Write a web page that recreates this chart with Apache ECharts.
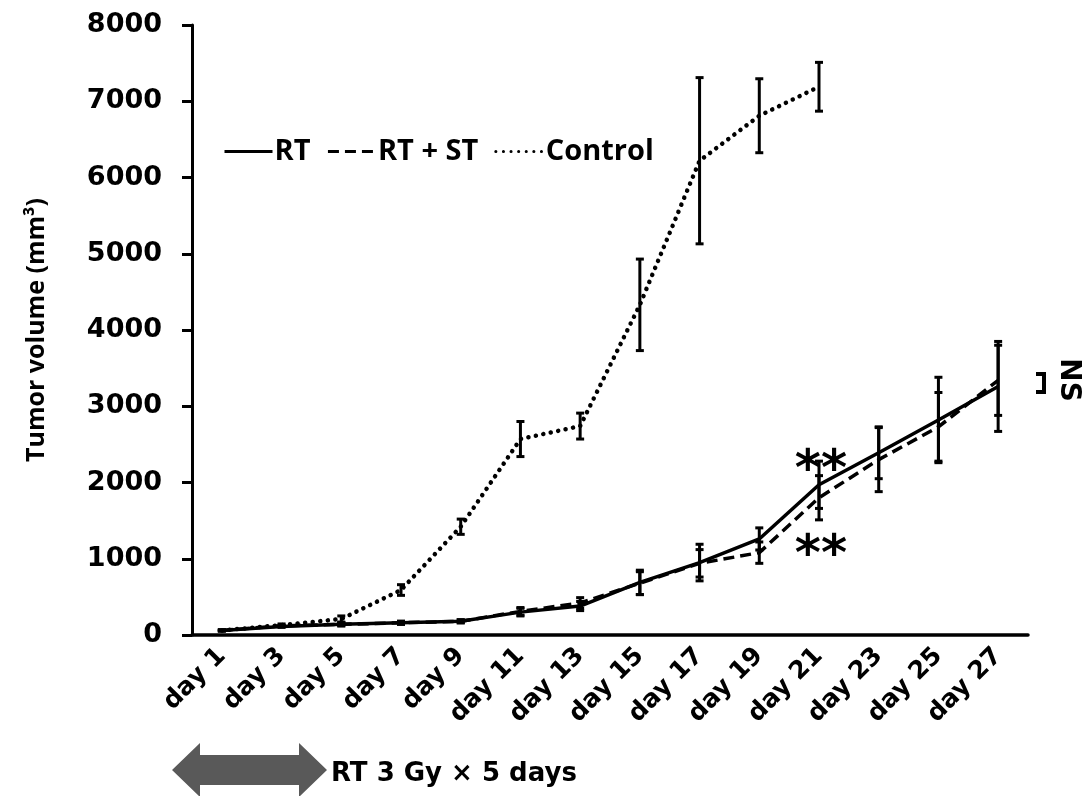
<!DOCTYPE html>
<html>
<head>
<meta charset="utf-8">
<script src="https://cdn.jsdelivr.net/npm/echarts@6/dist/echarts.min.js"></script>
<style>
html,body{margin:0;padding:0;background:#fff;}
#chart{width:1090px;height:796px;}
</style>
</head>
<body>
<div id="chart"></div>
<script>
// ---- data ----
const categories = ['day 1','day 3','day 5','day 7','day 9','day 11','day 13','day 15','day 17','day 19','day 21','day 23','day 25','day 27'];
const rtValues   = [60, 110, 140, 160, 180, 300, 380, 690, 950, 1260, 1970, 2390, 2820, 3260];
const rtErr      = [5, 10, 20, 20, 20, 50, 60, 160, 240, 145, 310, 340, 560, 590];
const rtstValues = [60, 120, 140, 160, 180, 310, 420, 680, 940, 1080, 1800, 2300, 2730, 3340];
const rtstErr    = [5, 10, 20, 20, 20, 50, 70, 150, 180, 140, 290, 420, 450, 460];
const ctrlValues = [60, 130, 210, 590, 1420, 2570, 2740, 4330, 6220, 6810, 7190];
const ctrlErr    = [10, 15, 40, 70, 100, 230, 170, 600, 1090, 485, 320];
const yTicks     = [0, 1000, 2000, 3000, 4000, 5000, 6000, 7000, 8000];
const seriesNames = ['RT', 'RT + ST', 'Control'];

const chart = echarts.init(document.getElementById('chart'));

function errData(vals, errs) {
  return vals.map((v, i) => [i, v, errs[i]]);
}
function errRender(params, api) {
  const x = api.value(0), v = api.value(1), e = api.value(2);
  const top = api.coord([x, v + e]);
  const bot = api.coord([x, v - e]);
  const cw = 4;
  const st = {stroke: '#000', lineWidth: 3};
  return {
    type: 'group',
    children: [
      {type: 'line', shape: {x1: top[0], y1: top[1], x2: bot[0], y2: bot[1]}, style: st},
      {type: 'line', shape: {x1: top[0]-cw, y1: top[1], x2: top[0]+cw, y2: top[1]}, style: st},
      {type: 'line', shape: {x1: bot[0]-cw, y1: bot[1], x2: bot[0]+cw, y2: bot[1]}, style: st}
    ]
  };
}

const boldWide = {fontFamily: 'DejaVu Sans', fontWeight: 'bold', color: '#000'};

chart.setOption({
  animation: false,
  backgroundColor: '#fff',
  grid: {left: 192, right: 62, top: 25, bottom: 161, containLabel: false},
  legend: {
    left: 218, top: 132,
    itemWidth: 48, itemHeight: 14, itemGap: 16,
    itemStyle: {opacity: 0},
    lineStyle: {width: 3},
    data: seriesNames,
    textStyle: {fontFamily: 'Open Sans', fontWeight: 'bold', fontSize: 29, color: '#000', padding: [0, 0, 0, -3]}
  },
  xAxis: {
    type: 'category',
    data: categories,
    boundaryGap: true,
    axisLine: {lineStyle: {color: '#000', width: 3.5}},
    axisTick: {show: false},
    axisLabel: Object.assign({rotate: 45, fontSize: 25, margin: 17, interval: 0}, boldWide),
    splitLine: {show: false}
  },
  yAxis: {
    type: 'value',
    min: yTicks[0], max: yTicks[yTicks.length - 1], interval: 1000,
    name: 'Tumor volume (mm³)',
    nameLocation: 'middle',
    nameGap: 143,
    nameTextStyle: {fontFamily: 'Open Sans', fontWeight: 'bold', fontSize: 25, color: '#000'},
    axisLine: {show: true, lineStyle: {color: '#000', width: 3}},
    axisTick: {show: true, inside: false, length: 10, lineStyle: {color: '#000', width: 3}},
    axisLabel: Object.assign({fontSize: 27, margin: 30, formatter: v => String(v)}, boldWide),
    splitLine: {show: false}
  },
  series: [
    {name: seriesNames[0], type: 'line', data: rtValues, symbol: 'none', z: 3,
     lineStyle: {color: '#000', width: 3.5, type: 'solid'}, itemStyle: {color: '#000'}},
    {name: seriesNames[1], type: 'line', data: rtstValues, symbol: 'none', z: 3,
     lineStyle: {color: '#000', width: 3.5, type: [11, 6]}, itemStyle: {color: '#000'}},
    {name: seriesNames[2], type: 'line', data: ctrlValues, symbol: 'none', z: 3,
     lineStyle: {color: '#000', width: 4.5, type: [0.1, 7.5], cap: 'round'}, itemStyle: {color: '#000'}},
    {type: 'custom', renderItem: errRender, data: errData(rtValues, rtErr), z: 4, encode: {x: 0, y: 1}},
    {type: 'custom', renderItem: errRender, data: errData(rtstValues, rtstErr), z: 4, encode: {x: 0, y: 1}},
    {type: 'custom', renderItem: errRender, data: errData(ctrlValues, ctrlErr), z: 4, encode: {x: 0, y: 1}}
  ],
  graphic: [
    {type: 'text', x: 821, y: 472, style: {text: '**', fontFamily: 'DejaVu Sans', fontWeight: 'bold', fontSize: 50, fill: '#000', align: 'center', verticalAlign: 'middle'}},
    {type: 'text', x: 821, y: 557, style: {text: '**', fontFamily: 'DejaVu Sans', fontWeight: 'bold', fontSize: 50, fill: '#000', align: 'center', verticalAlign: 'middle'}},
    {type: 'polyline', shape: {points: [[1036, 374], [1044, 374], [1044, 392], [1036, 392]]},
     style: {stroke: '#000', lineWidth: 4, fill: null}},
    {type: 'text', x: 1068, y: 380, rotation: -Math.PI / 2,
     style: {text: 'NS', fontFamily: 'DejaVu Sans', fontWeight: 'bold', fontSize: 28, fill: '#000', align: 'center', verticalAlign: 'middle'}},
    {type: 'polygon', shape: {points: [[172, 770], [200, 743], [200, 755], [299, 755], [299, 743], [327, 770], [299, 797], [299, 785], [200, 785], [200, 797]]},
     style: {fill: '#595959'}},
    {type: 'text', left: 331, top: 761, style: {text: 'RT 3 Gy × 5 days', fontFamily: 'DejaVu Sans', fontWeight: 'bold', fontSize: 26, fill: '#000'}}
  ]
});
</script>
</body>
</html>
